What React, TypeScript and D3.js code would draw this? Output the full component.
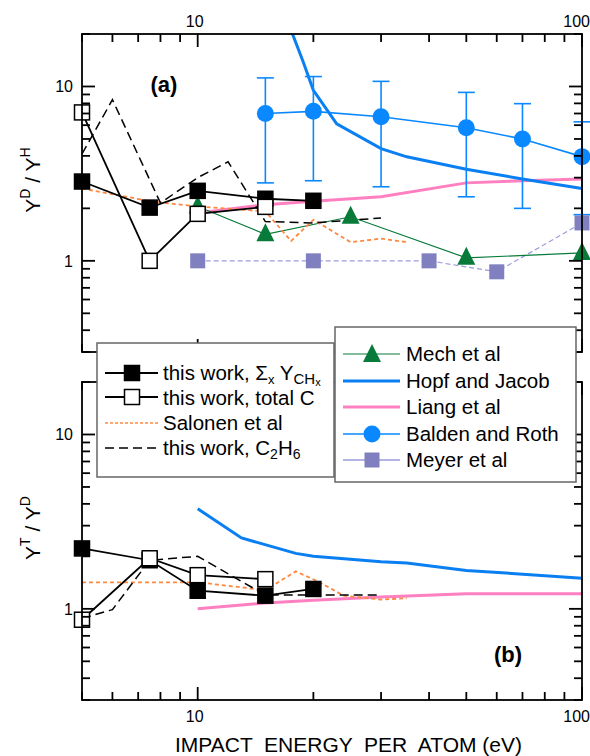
import React from "react";
import * as d3 from "d3";

// impact energy (eV/atom) and isotope ratios
// panel (a): Y^D / Y^H
const E_SUM_A = [5, 7.5, 10, 15, 20];
const SUM_A = [2.85, 2.02, 2.52, 2.27, 2.21];
const E_TOT_A = [5, 7.5, 10, 15];
const TOT_A = [7.1, 1.0, 1.86, 2.04];
const E_C2H6_A = [5, 6, 8, 10, 12, 15, 20, 30];
const C2H6_A = [4.1, 8.4, 2.15, 3.0, 3.7, 1.68, 1.65, 1.76];
const E_SAL_A = [5, 7.5, 10, 15, 17.5, 20, 25, 30, 35];
const SAL_A = [2.6, 2.2, 2.05, 1.92, 1.3, 1.72, 1.28, 1.34, 1.28];
const E_MECH = [10, 15, 25, 50, 100];
const MECH_A = [2.05, 1.42, 1.79, 1.04, 1.11];
const E_HOPF_A = [17.5, 18.8, 20, 23, 30, 35, 50, 70, 100];
const HOPF_A = [21, 13.9, 9.5, 6.1, 4.4, 3.95, 3.35, 2.95, 2.6];
const E_LIANG_A = [10, 15, 20, 30, 50, 70, 100];
const LIANG_A = [1.88, 2.1, 2.2, 2.33, 2.8, 2.88, 2.95];
const E_BALDEN = [15, 20, 30, 50, 70, 100];
const BALDEN_A = [7.0, 7.2, 6.7, 5.8, 5.0, 3.96];
const BALDEN_HI = [11.2, 11.4, 10.7, 9.25, 7.97, 6.27];
const BALDEN_LO = [2.8, 2.88, 2.66, 2.33, 2.0, 1.84];
const E_MEYER = [10, 20, 40, 60, 100];
const MEYER_A = [1.0, 1.0, 1.0, 0.865, 1.65];

// panel (b): Y^T / Y^D
const E_SUM_B = [5, 7.5, 10, 15, 20];
const SUM_B = [2.22, 1.9, 1.27, 1.19, 1.3];
const E_TOT_B = [5, 7.5, 10, 15];
const TOT_B = [0.866, 1.95, 1.56, 1.48];
const E_C2H6_B = [5, 6, 7.5, 10, 15, 20, 30];
const C2H6_B = [0.88, 0.99, 1.9, 2.0, 1.2, 1.2, 1.2];
const E_SAL_B = [5, 10, 15, 18, 20.5, 24, 30, 35];
const SAL_B = [1.42, 1.42, 1.28, 1.64, 1.44, 1.19, 1.13, 1.15];
const E_HOPF_B = [10, 13, 18, 20, 30, 35, 50, 100];
const HOPF_B = [3.75, 2.55, 2.08, 2.0, 1.86, 1.83, 1.66, 1.5];
const E_LIANG_B = [10, 15, 20, 30, 50, 100];
const LIANG_B = [1.0, 1.08, 1.12, 1.17, 1.22, 1.22];

const X_LABELS = [10, 100];
const Y_LABELS = [1, 10];

const FONT = "'Liberation Sans', Arial, sans-serif";
const C_GREEN = "#087a3a";
const C_HOPF = "#0a7ff2";
const C_BALDEN = "#0a88ff";
const C_PINK = "#ff80c0";
const C_MEYER = "#8080c0";
const C_MEYER_LINE = "#9c9cdc";
const C_SAL = "#ff8840";

const x = d3.scaleLog().domain([5, 100]).range([82, 582]);
const yA = d3.scaleLog().domain([0.3, 20]).range([352, 34]);
const yB = d3.scaleLog().domain([0.3, 20]).range([700, 382]);

const zip = (a: number[], b: number[]) => a.map((v, i) => [v, b[i]] as [number, number]);
const isMajor = (v: number) => Math.abs(Math.log10(v) - Math.round(Math.log10(v))) < 1e-6;

const Sq = ({ cx, cy, fill, stroke = "#000" }: any) => (
  <rect x={cx - 7.5} y={cy - 7.5} width={15} height={15} fill={fill} stroke={stroke} strokeWidth={1.5} />
);
const Tri = ({ cx, cy }: any) => (
  <path d={`M${cx},${cy - 11}L${cx + 9},${cy + 7}L${cx - 9},${cy + 7}Z`} fill={C_GREEN} />
);

function Axes({ y }: { y: any }) {
  const [bot, top] = y.range();
  const xt = x.ticks();
  const yt = y.ticks();
  const left = x.range()[0];
  const right = x.range()[1];
  return (
    <g stroke="#000" strokeWidth={1.8}>
      <rect x={left} y={top} width={right - left} height={bot - top} fill="none" />
      {xt.map((v: number) => {
        const L = isMajor(v) ? 13 : 8;
        return (
          <g key={"x" + v}>
            <line x1={x(v)} x2={x(v)} y1={top} y2={top + L} />
            <line x1={x(v)} x2={x(v)} y1={bot} y2={bot - L} />
          </g>
        );
      })}
      {yt.map((v: number) => {
        const L = isMajor(v) ? 13 : 8;
        return (
          <g key={"y" + v}>
            <line x1={left} x2={left + L} y1={y(v)} y2={y(v)} />
            <line x1={right} x2={right - L} y1={y(v)} y2={y(v)} />
          </g>
        );
      })}
    </g>
  );
}

function Panel({ y, id, sum, tot, c2h6, sal, hopf, liang, mech, meyer, balden }: any) {
  const line = d3.line<[number, number]>().x((d) => x(d[0])).y((d) => y(d[1]));
  const [bot, top] = y.range();
  return (
    <g>
      <clipPath id={id}>
        <rect x={0} y={top} width={590} height={bot - top} />
      </clipPath>
      <g clipPath={`url(#${id})`} fill="none">
        {liang && <path d={line(liang)!} stroke={C_PINK} strokeWidth={3} />}
        {hopf && <path d={line(hopf)!} stroke={C_HOPF} strokeWidth={3} />}
        {meyer && <path d={line(meyer)!} stroke={C_MEYER_LINE} strokeWidth={1.2} strokeDasharray="5,3" />}
        {mech && <path d={line(mech)!} stroke={C_GREEN} strokeWidth={1.2} />}
        {balden && <path d={line(balden)!} stroke={C_BALDEN} strokeWidth={1.6} />}
        {sal && <path d={line(sal)!} stroke={C_SAL} strokeWidth={1.8} strokeDasharray="4,3" />}
        {c2h6 && <path d={line(c2h6)!} stroke="#000" strokeWidth={1.5} strokeDasharray="9,5" />}
        <path d={line(sum)!} stroke="#000" strokeWidth={1.8} />
        <path d={line(tot)!} stroke="#000" strokeWidth={1.8} />
      </g>
      {balden &&
        balden.map((d: [number, number], i: number) => (
          <g key={"b" + i} stroke={C_BALDEN} strokeWidth={1.6}>
            <line x1={x(d[0])} x2={x(d[0])} y1={y(BALDEN_HI[i])} y2={y(BALDEN_LO[i])} />
            <line x1={x(d[0]) - 8.5} x2={x(d[0]) + 8.5} y1={y(BALDEN_HI[i])} y2={y(BALDEN_HI[i])} />
            <line x1={x(d[0]) - 8.5} x2={x(d[0]) + 8.5} y1={y(BALDEN_LO[i])} y2={y(BALDEN_LO[i])} />
            <circle cx={x(d[0])} cy={y(d[1])} r={8.5} fill={C_BALDEN} stroke="none" />
          </g>
        ))}
      {meyer && meyer.map((d: [number, number], i: number) => <Sq key={"m" + i} cx={x(d[0])} cy={y(d[1])} fill={C_MEYER} stroke="none" />)}
      {mech && mech.map((d: [number, number], i: number) => <Tri key={"t" + i} cx={x(d[0])} cy={y(d[1])} />)}
      {sum.map((d: [number, number], i: number) => <Sq key={"s" + i} cx={x(d[0])} cy={y(d[1])} fill="#000" />)}
      {tot.map((d: [number, number], i: number) => <Sq key={"o" + i} cx={x(d[0])} cy={y(d[1])} fill="#fff" />)}
      <Axes y={y} />
      <g fontFamily={FONT} fontSize={16}>
        {Y_LABELS.map((v) => (
          <text key={v} x={73} y={y(v) + 6} textAnchor="end">{v}</text>
        ))}
      </g>
    </g>
  );
}

export default function App() {
  const l1 = [373, 397, 423, 448];
  const l2 = [354, 381, 407, 434, 460];
  return (
    <svg width={590} height={756} style={{ position: "absolute", left: 0, top: 0, background: "#fff" }}>
      <Panel
        y={yA}
        id="clipA"
        sum={zip(E_SUM_A, SUM_A)}
        tot={zip(E_TOT_A, TOT_A)}
        c2h6={zip(E_C2H6_A, C2H6_A)}
        sal={zip(E_SAL_A, SAL_A)}
        hopf={zip(E_HOPF_A, HOPF_A)}
        liang={zip(E_LIANG_A, LIANG_A)}
        mech={zip(E_MECH, MECH_A)}
        meyer={zip(E_MEYER, MEYER_A)}
        balden={zip(E_BALDEN, BALDEN_A)}
      />
      <Panel
        y={yB}
        id="clipB"
        sum={zip(E_SUM_B, SUM_B)}
        tot={zip(E_TOT_B, TOT_B)}
        c2h6={zip(E_C2H6_B, C2H6_B)}
        sal={zip(E_SAL_B, SAL_B)}
        hopf={zip(E_HOPF_B, HOPF_B)}
        liang={zip(E_LIANG_B, LIANG_B)}
      />
      <g fontFamily={FONT} fontSize={16}>
        {X_LABELS.map((v) => (
          <text key={"t" + v} x={v === 100 ? 590 : x(v) - 3} y={27} textAnchor={v === 100 ? "end" : "middle"}>{v}</text>
        ))}
        {X_LABELS.map((v) => (
          <text key={"b" + v} x={v === 100 ? 590 : x(v) - 3} y={722} textAnchor={v === 100 ? "end" : "middle"}>{v}</text>
        ))}
      </g>
      <text x={175} y={752} fontFamily={FONT} fontSize={21} style={{ whiteSpace: "pre" }}>
        IMPACT  ENERGY  PER  ATOM (eV)
      </text>
      <g fontFamily={FONT} fontSize={21}>
        <text transform="translate(40,180) rotate(-90)" textAnchor="middle">
          Y<tspan fontSize={14} dy={-10}>D</tspan>
          <tspan dy={10}> / Y</tspan>
          <tspan fontSize={14} dy={-10}>H</tspan>
        </text>
        <text transform="translate(40,528) rotate(-90)" textAnchor="middle">
          Y<tspan fontSize={14} dy={-10}>T</tspan>
          <tspan dy={10}> / Y</tspan>
          <tspan fontSize={14} dy={-10}>D</tspan>
        </text>
      </g>
      <text x={164} y={92} fontFamily={FONT} fontSize={22} fontWeight="bold" textAnchor="middle">(a)</text>
      <text x={508} y={662} fontFamily={FONT} fontSize={22} fontWeight="bold" textAnchor="middle">(b)</text>

      {/* legend 1 */}
      <g fontFamily={FONT} fontSize={20.5}>
        <rect x={97} y={343} width={237} height={134} fill="#fff" stroke="#666" strokeWidth={1.5} />
        <line x1={105} x2={158} y1={l1[0]} y2={l1[0]} stroke="#000" strokeWidth={1.8} />
        <Sq cx={132} cy={l1[0]} fill="#000" />
        <line x1={105} x2={158} y1={l1[1]} y2={l1[1]} stroke="#000" strokeWidth={1.8} />
        <Sq cx={132} cy={l1[1]} fill="#fff" />
        <line x1={105} x2={158} y1={l1[2]} y2={l1[2]} stroke={C_SAL} strokeWidth={1.5} strokeDasharray="3,2" />
        <line x1={105} x2={158} y1={l1[3]} y2={l1[3]} stroke="#000" strokeWidth={1.5} strokeDasharray="9,5" />
        <text x={163} y={l1[0] + 7}>
          this work, Σ<tspan fontSize={13} dy={4}>x</tspan>
          <tspan dy={-4}> Y</tspan>
          <tspan fontSize={15} dy={4}>CH</tspan>
          <tspan fontSize={11} dy={2}>x</tspan>
        </text>
        <text x={163} y={l1[1] + 8}>this work, total C</text>
        <text x={163} y={l1[2] + 7}>Salonen et al</text>
        <text x={163} y={l1[3] + 7}>
          this work, C<tspan fontSize={14} dy={4}>2</tspan>
          <tspan dy={-4}>H</tspan>
          <tspan fontSize={14} dy={4}>6</tspan>
        </text>
      </g>

      {/* legend 2 */}
      <g fontFamily={FONT} fontSize={20.5}>
        <rect x={335} y={327} width={241} height={155} fill="#fff" stroke="#666" strokeWidth={1.5} />
        <line x1={343} x2={400} y1={l2[0]} y2={l2[0]} stroke={C_GREEN} strokeWidth={1.2} />
        <Tri cx={372} cy={l2[0] + 1} />
        <line x1={343} x2={400} y1={l2[1]} y2={l2[1]} stroke={C_HOPF} strokeWidth={3} />
        <line x1={343} x2={400} y1={l2[2]} y2={l2[2]} stroke={C_PINK} strokeWidth={3} />
        <line x1={343} x2={400} y1={l2[3]} y2={l2[3]} stroke={C_BALDEN} strokeWidth={1.6} />
        <circle cx={372} cy={l2[3]} r={8.5} fill={C_BALDEN} />
        <line x1={343} x2={400} y1={l2[4]} y2={l2[4]} stroke={C_MEYER_LINE} strokeWidth={1.6} />
        <Sq cx={372} cy={l2[4]} fill={C_MEYER} stroke="none" />
        <text x={406} y={l2[0] + 7}>Mech et al</text>
        <text x={406} y={l2[1] + 7}>Hopf and Jacob</text>
        <text x={406} y={l2[2] + 7}>Liang et al</text>
        <text x={406} y={l2[3] + 7}>Balden and Roth</text>
        <text x={406} y={l2[4] + 7}>Meyer et al</text>
      </g>
    </svg>
  );
}
